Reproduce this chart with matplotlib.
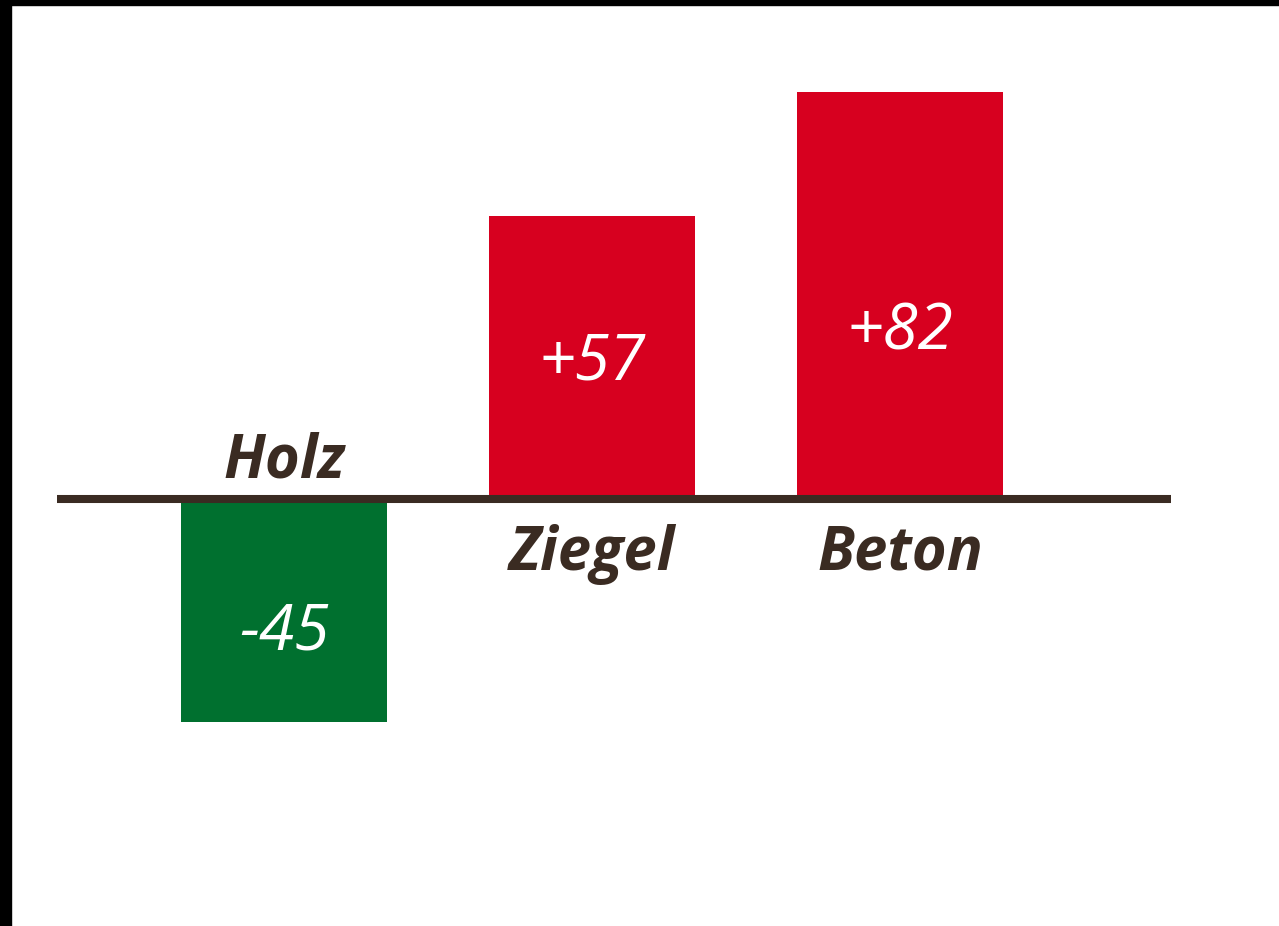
import matplotlib
matplotlib.use("Agg")
import matplotlib.pyplot as plt
from matplotlib.patches import Rectangle

categories = ["Holz", "Ziegel", "Beton"]
values = [-45, 57, 82]
value_labels = ["-45", "+57", "+82"]

W, H = 1279, 926
DPI = 100
fig = plt.figure(figsize=(W / DPI, H / DPI), dpi=DPI, facecolor="white")
ax = fig.add_axes([0, 0, 1, 1])

k = 4.96            # px per unit
base_px = 499       # baseline from top
xc0, dx = 284, 308  # center of first bar, spacing (px)
ax.set_xlim(-xc0 / dx, (W - xc0) / dx)
ax.set_ylim(-(H - base_px) / k, base_px / k)
ax.axis("off")

red = "#d7001f"
green = "#00702f"
brown = "#3a2b22"
colors = [green if v < 0 else red for v in values]
xs = list(range(len(categories)))
ax.bar(xs, values, width=206 / dx, color=colors, zorder=2)

ax.axhline(0, xmin=57 / W, xmax=1171 / W, color=brown, lw=5.8, zorder=3,
           solid_capstyle="butt")

font = "Open Sans"
for x, v, cat, lab in zip(xs, values, categories, value_labels):
    if v < 0:
        ax.annotate(cat, (x, 0), xytext=(0, 15.5), textcoords="offset points",
                    ha="center", va="baseline", fontsize=43, fontweight="bold",
                    fontstyle="italic", color=brown, family=font)
        fy = v * 0.564
    else:
        ax.annotate(cat, (x, 0), xytext=(0, -51), textcoords="offset points",
                    ha="center", va="baseline", fontsize=43, fontweight="bold",
                    fontstyle="italic", color=brown, family=font)
        fy = v * (0.51 if v < 70 else 0.427)
    ax.text(x, fy, lab, ha="center", va="center_baseline", fontsize=46,
            fontstyle="italic", color="white", family=font, zorder=4)

# black frame strips (top and left)
fig.patches.append(Rectangle((0, 1 - 5 / H), 1, 5 / H, transform=fig.transFigure,
                             color="black", zorder=10))
fig.patches.append(Rectangle((0, 0), 11 / W, 1, transform=fig.transFigure,
                             color="black", zorder=10))

fig.savefig("out.png", dpi=DPI, facecolor="white")
